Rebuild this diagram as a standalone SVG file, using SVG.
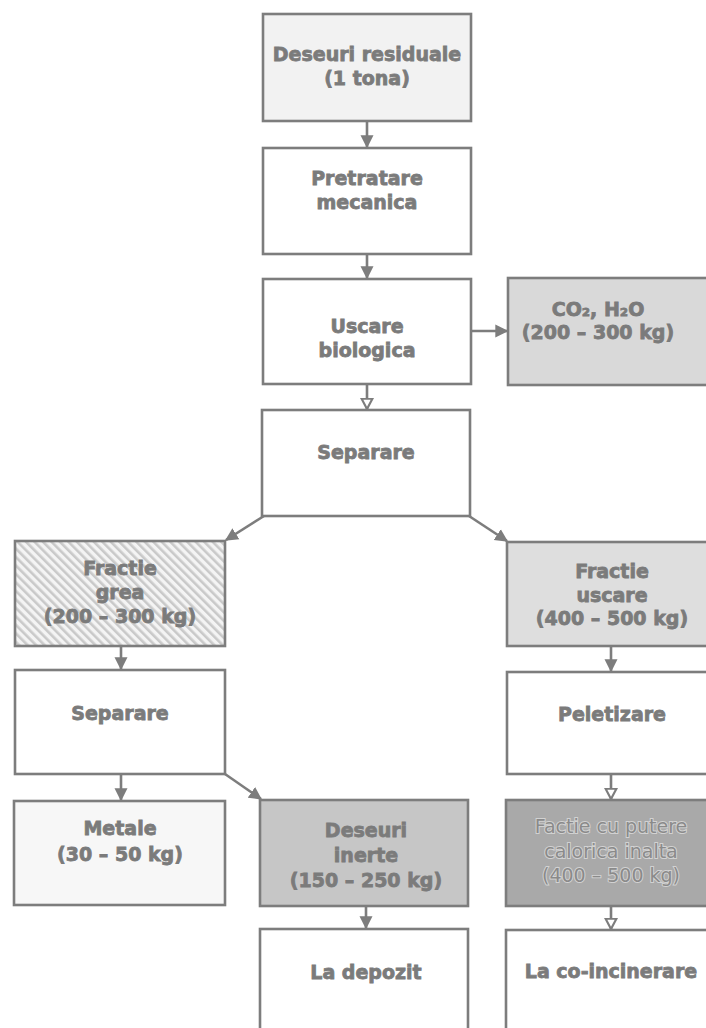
<svg xmlns="http://www.w3.org/2000/svg" width="706" height="1028" viewBox="0 0 706 1028">
<style>
.box{stroke:#7d7d7d;stroke-width:2.6}
.t{font-family:"DejaVu Sans","Liberation Sans",sans-serif;font-weight:bold;font-size:19px;fill:#7b7b7b;stroke:#7b7b7b;stroke-width:0.8;text-anchor:middle}
.tl{fill:#8a8a8a;stroke:#d2d2d2;stroke-width:2;paint-order:stroke;font-weight:normal}
.c{stroke:#7d7d7d;stroke-width:2.6;fill:none}
</style>
<defs>
<pattern id="hatch" width="6" height="6" patternUnits="userSpaceOnUse" patternTransform="rotate(-45)">
<rect width="6" height="6" fill="#f4f4f4"/>
<rect width="2.6" height="6" fill="#c9c9c9"/>
</pattern>
<marker id="af" viewBox="0 0 10 10" refX="9" refY="5" markerWidth="5" markerHeight="5.4" orient="auto" markerUnits="strokeWidth">
<path d="M0,0 L10,5 L0,10 Z" fill="#7d7d7d"/>
</marker>
<marker id="ah" viewBox="0 0 12 12" refX="10.5" refY="6" markerWidth="5" markerHeight="5.4" orient="auto" markerUnits="strokeWidth">
<path d="M1,1 L10.5,6 L1,11 Z" fill="#ffffff" stroke="#7d7d7d" stroke-width="2"/>
</marker>
</defs>
<rect width="706" height="1028" fill="#ffffff"/>

<g id="connectors">
<line class="c" x1="367" y1="121" x2="367" y2="147" marker-end="url(#af)"/>
<line class="c" x1="367" y1="254" x2="367" y2="278" marker-end="url(#af)"/>
<line class="c" x1="471" y1="331" x2="507" y2="331" marker-end="url(#af)"/>
<line class="c" x1="367" y1="384" x2="367" y2="409" marker-end="url(#ah)"/>
<line class="c" x1="264" y1="516" x2="226" y2="540" marker-end="url(#af)"/>
<line class="c" x1="469" y1="516" x2="507" y2="541" marker-end="url(#af)"/>
<line class="c" x1="121" y1="646" x2="121" y2="669" marker-end="url(#af)"/>
<line class="c" x1="611" y1="646" x2="611" y2="671" marker-end="url(#af)"/>
<line class="c" x1="121" y1="774" x2="121" y2="800" marker-end="url(#af)"/>
<line class="c" x1="225" y1="774" x2="261" y2="799" marker-end="url(#af)"/>
<line class="c" x1="611" y1="774" x2="611" y2="799" marker-end="url(#ah)"/>
<line class="c" x1="366" y1="906" x2="366" y2="928" marker-end="url(#af)"/>
<line class="c" x1="611" y1="906" x2="611" y2="929" marker-end="url(#ah)"/>
</g>

<g id="n-deseuri-residuale">
<rect class="box" x="263" y="14" width="208" height="107" fill="#f2f2f2"/>
<text class="t" x="367" y="61">Deseuri residuale</text>
<text class="t" x="367" y="85">(1 tona)</text>
</g>

<g id="n-pretratare">
<rect class="box" x="263" y="148" width="208" height="106" fill="#ffffff"/>
<text class="t" x="367" y="185">Pretratare</text>
<text class="t" x="367" y="209">mecanica</text>
</g>

<g id="n-uscare">
<rect class="box" x="263" y="279" width="208" height="105" fill="#ffffff"/>
<text class="t" x="367" y="333">Uscare</text>
<text class="t" x="367" y="357">biologica</text>
</g>

<g id="n-co2">
<rect class="box" x="508" y="278" width="208" height="107" fill="#d9d9d9"/>
<text class="t" x="598" y="316">CO₂, H₂O</text>
<text class="t" x="598" y="339">(200 – 300 kg)</text>
</g>

<g id="n-separare1">
<rect class="box" x="262" y="410" width="208" height="106" fill="#ffffff"/>
<text class="t" x="366" y="459">Separare</text>
</g>

<g id="n-fractie-grea">
<rect class="box" x="15" y="541" width="210" height="105" fill="url(#hatch)"/>
<text class="t" x="120" y="575">Fractie</text>
<text class="t" x="120" y="599">grea</text>
<text class="t" x="120" y="623">(200 – 300 kg)</text>
</g>

<g id="n-fractie-uscare">
<rect class="box" x="507" y="542" width="208" height="104" fill="#dedede"/>
<text class="t" x="612" y="578">Fractie</text>
<text class="t" x="612" y="602">uscare</text>
<text class="t" x="612" y="625">(400 – 500 kg)</text>
</g>

<g id="n-separare2">
<rect class="box" x="15" y="670" width="210" height="104" fill="#ffffff"/>
<text class="t" x="120" y="720">Separare</text>
</g>

<g id="n-peletizare">
<rect class="box" x="507" y="672" width="208" height="102" fill="#ffffff"/>
<text class="t" x="612" y="721">Peletizare</text>
</g>

<g id="n-metale">
<rect class="box" x="14" y="801" width="211" height="104" fill="#f7f7f7"/>
<text class="t" x="120" y="835">Metale</text>
<text class="t" x="120" y="861">(30 – 50 kg)</text>
</g>

<g id="n-deseuri-inerte">
<rect class="box" x="260" y="800" width="208" height="106" fill="#c6c6c6"/>
<text class="t" x="366" y="837">Deseuri</text>
<text class="t" x="366" y="862">inerte</text>
<text class="t" x="366" y="887">(150 – 250 kg)</text>
</g>

<g id="n-factie-putere">
<rect class="box" x="506" y="800" width="208" height="106" fill="#a9a9a9"/>
<text class="t tl" x="611" y="833">Factie cu putere</text>
<text class="t tl" x="611" y="858">calorica inalta</text>
<text class="t tl" x="611" y="882">(400 – 500 kg)</text>
</g>

<g id="n-la-depozit">
<rect class="box" x="260" y="929" width="208" height="125" fill="#ffffff"/>
<text class="t" x="366" y="979">La depozit</text>
</g>

<g id="n-la-coincinerare">
<rect class="box" x="506" y="930" width="208" height="125" fill="#ffffff"/>
<text class="t" x="611" y="978">La co-incinerare</text>
</g>
</svg>
